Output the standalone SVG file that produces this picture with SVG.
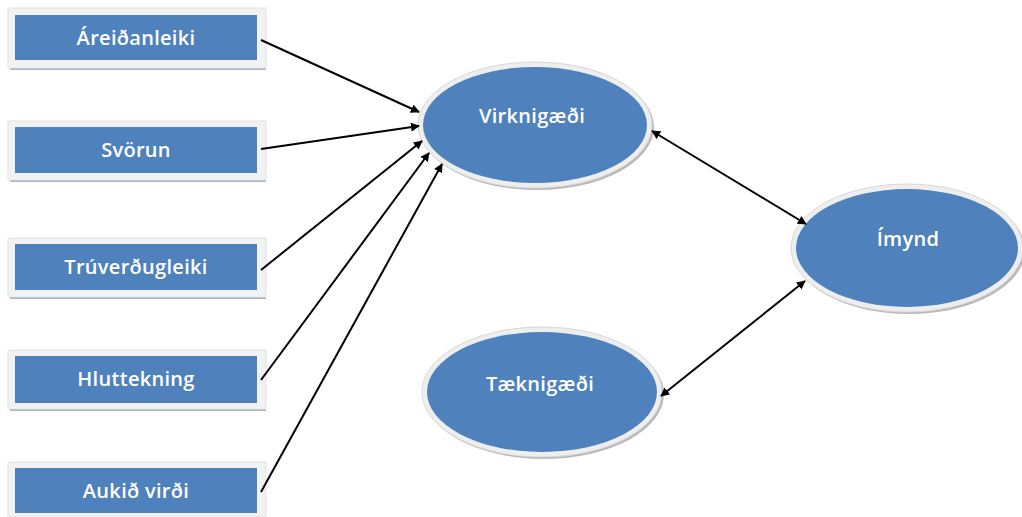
<svg xmlns="http://www.w3.org/2000/svg" width="1022" height="517" viewBox="0 0 1022 517">
<style>
.frame{fill:#f2f2f2;stroke:#e4e4e4;stroke-width:1}
.shadow{fill:#a9b4c6}
.box{fill:#4f81bd}
.ering{fill:#eeeeee;stroke:#d8d8d8;stroke-width:1}
.eshadow{fill:#b9b9b9}
.ell{fill:#4f81bd}
.t{font-family:"Open Sans","Liberation Sans",sans-serif;font-size:20px;font-weight:600;fill:#ffffff;text-anchor:middle;letter-spacing:0.3px}
.c{stroke:#000;stroke-width:2;fill:none}
</style>
<defs>
<marker id="ah" viewBox="0 0 10 10" refX="9" refY="5" markerWidth="9" markerHeight="9" orient="auto-start-reverse" markerUnits="userSpaceOnUse">
<path d="M0,0 L10,5 L0,10 z" fill="#000"/>
</marker>
</defs>
<rect width="1022" height="517" fill="#fff"/>
<g id="n1">
<rect class="shadow" x="10" y="66" width="256" height="4"/>
<rect class="frame" x="8" y="8" width="258" height="60"/>
<rect class="box" x="15" y="15" width="242" height="45"/>
<text class="t" x="136" y="45">Áreiðanleiki</text>
</g>
<g id="n2">
<rect class="shadow" x="10" y="178" width="256" height="4"/>
<rect class="frame" x="8" y="121" width="258" height="59"/>
<rect class="box" x="15" y="127" width="242" height="46"/>
<text class="t" x="136" y="157">Svörun</text>
</g>
<g id="n3">
<rect class="shadow" x="10" y="295" width="256" height="4"/>
<rect class="frame" x="8" y="238" width="258" height="59"/>
<rect class="box" x="15" y="244" width="242" height="46"/>
<text class="t" x="136" y="274">Trúverðugleiki</text>
</g>
<g id="n4">
<rect class="shadow" x="10" y="407" width="256" height="4"/>
<rect class="frame" x="8" y="350" width="258" height="59"/>
<rect class="box" x="15" y="356" width="242" height="47"/>
<text class="t" x="136" y="386">Hluttekning</text>
</g>
<g id="n5">
<rect class="shadow" x="10" y="515" width="256" height="2"/>
<rect class="frame" x="8" y="462" width="258" height="55"/>
<rect class="box" x="15" y="468" width="242" height="45"/>
<text class="t" x="136" y="498">Aukið virði</text>
</g>
<g id="e1">
<ellipse class="eshadow" cx="537" cy="127" rx="117" ry="63"/>
<ellipse class="ering" cx="535" cy="125" rx="117" ry="63"/>
<ellipse class="ell" cx="535" cy="125" rx="112" ry="58"/>
<text class="t" x="532" y="123">Virknigæði</text>
</g>
<g id="e2">
<ellipse class="eshadow" cx="909" cy="250" rx="116" ry="64"/>
<ellipse class="ering" cx="907" cy="248" rx="116" ry="64"/>
<ellipse class="ell" cx="907" cy="248" rx="111" ry="59"/>
<text class="t" x="908" y="246">Ímynd</text>
</g>
<g id="e3">
<ellipse class="eshadow" cx="544" cy="394" rx="120" ry="65"/>
<ellipse class="ering" cx="542" cy="392" rx="120" ry="65"/>
<ellipse class="ell" cx="542" cy="392" rx="115" ry="60"/>
<text class="t" x="540" y="391">Tæknigæði</text>
</g>
<g id="connectors">
<line class="c" x1="261" y1="40" x2="419" y2="112" marker-end="url(#ah)"/>
<line class="c" x1="261" y1="149" x2="419" y2="126" marker-end="url(#ah)"/>
<line class="c" x1="261" y1="270" x2="422" y2="141" marker-end="url(#ah)"/>
<line class="c" x1="261" y1="380" x2="429" y2="153" marker-end="url(#ah)"/>
<line class="c" x1="261" y1="492" x2="442" y2="164" marker-end="url(#ah)"/>
<line class="c" x1="652" y1="131" x2="806" y2="224" marker-start="url(#ah)" marker-end="url(#ah)"/>
<line class="c" x1="661" y1="396" x2="805" y2="281" marker-start="url(#ah)" marker-end="url(#ah)"/>
</g>
</svg>
